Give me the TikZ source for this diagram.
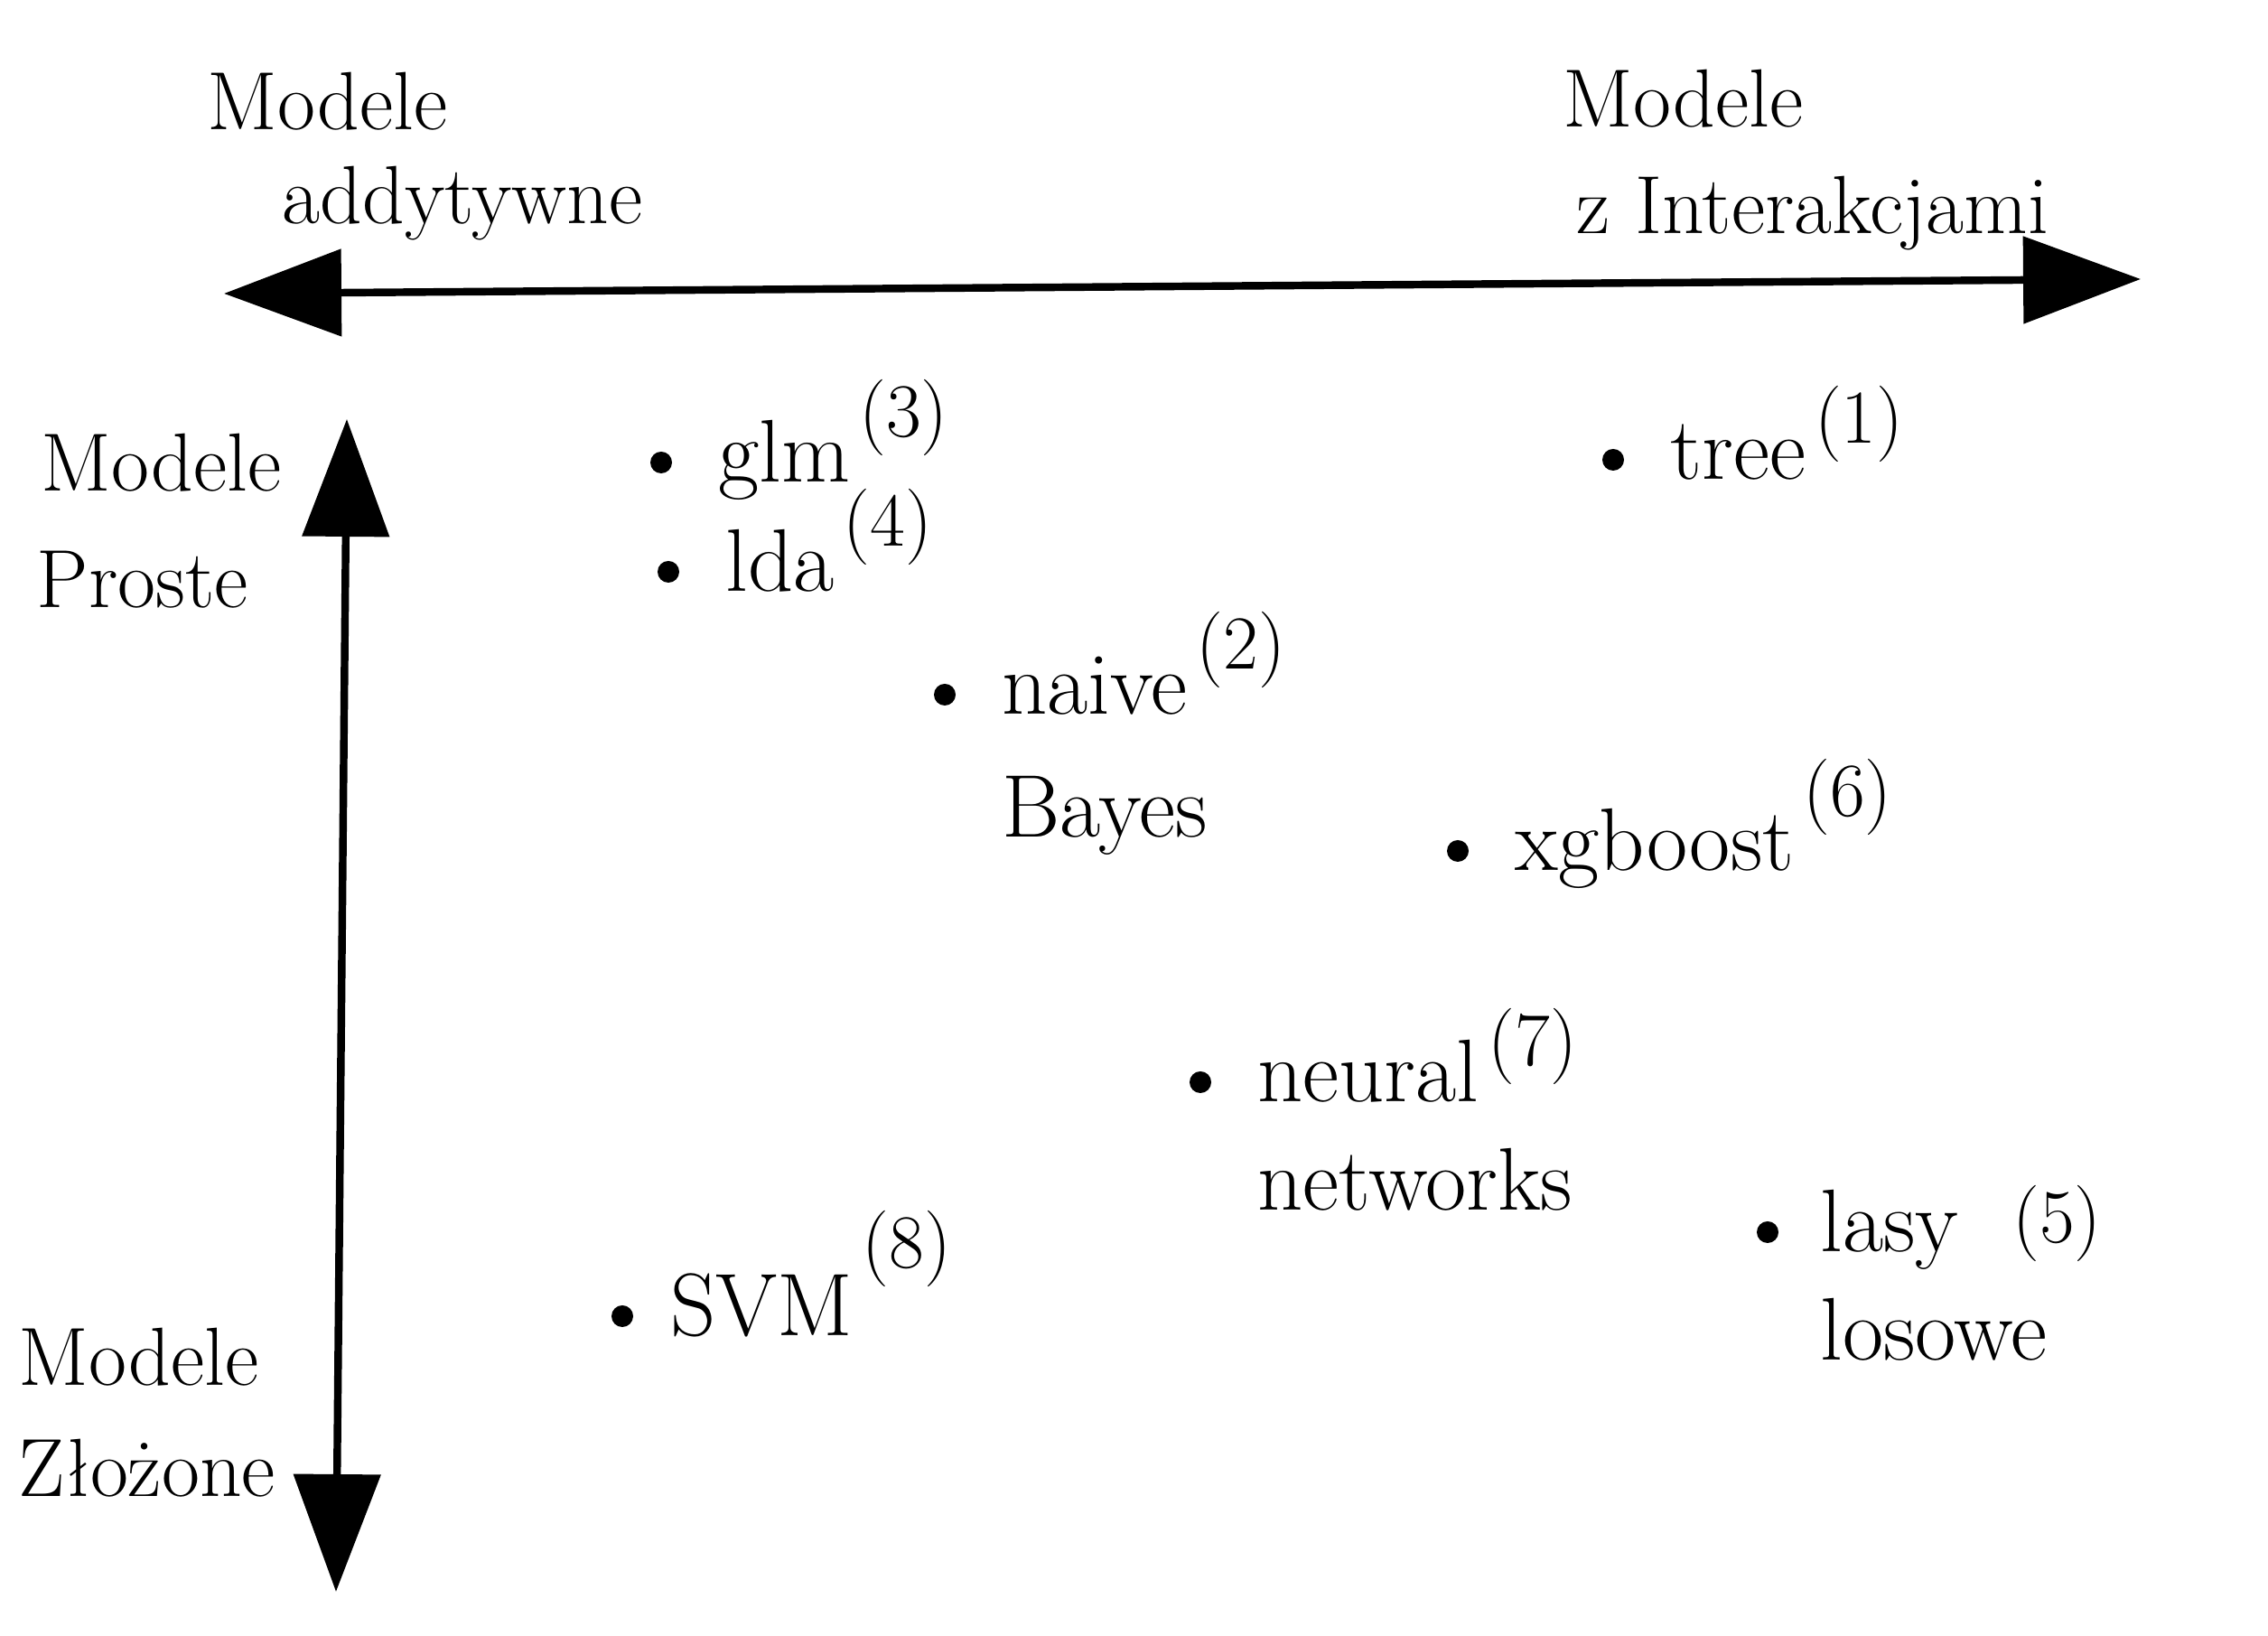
\documentclass[tikz,border=0pt]{standalone}
\usepackage{fontspec}
\usepackage{tikz}
\usetikzlibrary{arrows.meta}
\newcommand{\rank}[2][0.5cm]{\hspace{0.1cm}\raisebox{#1}{\fontsize{24}{26}\selectfont(#2)}}

\begin{document}
\begin{tikzpicture}[
    axis/.style={line width=2.4pt, >={Triangle[length=1.3cm,width=0.95cm]}, <->},
    dot/.style={circle, fill=black, inner sep=0pt, minimum size=0.24cm},
    model/.style={inner sep=0pt, anchor=base west, font=\fontsize{28}{32}\selectfont},
    title/.style={inner sep=0pt, anchor=base west, font=\fontsize{26}{30}\selectfont}
]
    \useasboundingbox (0,0) rectangle (25.11,18.11);

    % Axes
    \coordinate (hleft) at (2.48,14.86);
    \coordinate (hright) at (23.70,15.02);
    \coordinate (vtop) at (3.84,13.47);
    \coordinate (vbot) at (3.72,0.49);
    \draw[axis] (hleft) -- (hright);
    \draw[axis] (vtop) -- (vbot);

    % Axis titles
    \node[title] (addA) at (2.29,16.67) {Modele};
    \node[title] (addB) at (3.12,15.63) {addytywne};
    \node[title] (intA) at (17.30,16.70) {Modele};
    \node[title] (intB) at (17.45,15.52) {z Interakcjami};
    \node[title] (simA) at (0.45,12.67) {Modele};
    \node[title] (simB) at (0.40,11.38) {Proste};
    \node[title] (cplA) at (0.20,2.77) {Modele};
    \node[title] (cplB) at (0.20,1.54) {Złożone};

    % Models, label baseline just under the dot
    \node[dot] (glm) at (7.32,12.99) {};
    \node[model] (glmL) at ([xshift=0.5cm,yshift=-0.22cm]glm.east) {glm\rank{3}};

    \node[dot] (lda) at (7.40,11.78) {};
    \node[model] (ldaL) at ([xshift=0.5cm,yshift=-0.22cm]lda.east) {lda\rank{4}};

    \node[dot] (naive) at (10.46,10.42) {};
    \node[model] (naiveL) at ([xshift=0.5cm,yshift=-0.22cm]naive.east) {naive\rank{2}};
    \node[model] (naiveB) at ([yshift=-1.36cm]naiveL.base west) {Bayes};

    \node[dot] (tree) at (17.86,13.02) {};
    \node[model] (treeL) at ([xshift=0.5cm,yshift=-0.22cm]tree.east) {tree\rank[0.4cm]{1}};

    \node[dot] (xgb) at (16.14,8.69) {};
    \node[model] (xgbL) at ([xshift=0.5cm,yshift=-0.22cm]xgb.east) {xgboost\rank[0.6cm]{6}};

    \node[dot] (nn) at (13.29,6.13) {};
    \node[model] (nnL) at ([xshift=0.5cm,yshift=-0.22cm]nn.east) {neural\rank[0.4cm]{7}};
    \node[model] (nnB) at ([yshift=-1.2cm]nnL.base west) {networks};

    \node[dot] (rf) at (19.57,4.47) {};
    \node[model] (rfL) at ([xshift=0.45cm,yshift=-0.22cm]rf.east) {lasy\hspace{0.5cm}\rank[0.1cm]{5}};
    \node[model] (rfB) at ([yshift=-1.2cm]rfL.base west) {losowe};

    \node[dot] (svm) at (6.89,3.54) {};
    \node[model] (svmL) at ([xshift=0.4cm,yshift=-0.22cm]svm.east) {SVM\rank[0.75cm]{8}};
\end{tikzpicture}
\end{document}
